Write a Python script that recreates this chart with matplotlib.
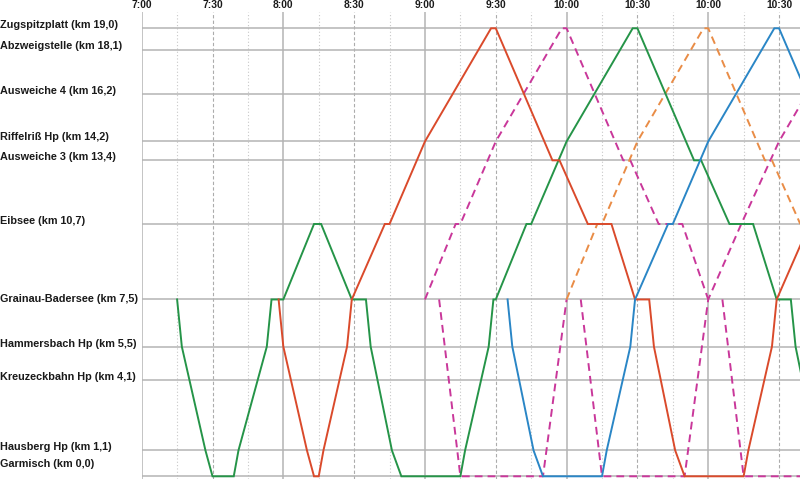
import matplotlib
matplotlib.use("Agg")
import matplotlib.pyplot as plt
import matplotlib.transforms as mtransforms

# ---------------- data ----------------
stations = ["Zugspitzplatt (km 19,0)", "Abzweigstelle (km 18,1)", "Ausweiche 4 (km 16,2)",
            "Riffelriß Hp (km 14,2)", "Ausweiche 3 (km 13,4)", "Eibsee (km 10,7)",
            "Grainau-Badersee (km 7,5)", "Hammersbach Hp (km 5,5)", "Kreuzeckbahn Hp (km 4,1)",
            "Hausberg Hp (km 1,1)", "Garmisch (km 0,0)"]
station_km = [19.0, 18.1, 16.2, 14.2, 13.4, 10.7, 7.5, 5.5, 4.1, 1.1, 0.0]

tick_times = ["7:00", "7:30", "8:00", "8:30", "9:00", "9:30", "10:00", "10:30", "11:00", "11:30"]
tick_labels = ["7:00", "7:30", "8:00", "8:30", "9:00", "9:30", "10:00", "10:30", "10:00", "10:30"]

green_times = ["7:15", "7:17", "7:27", "7:30", "7:39", "7:41", "7:53", "7:55", "8:00", "8:13", "8:16",
               "8:29", "8:35", "8:37", "8:46", "8:50", "9:15", "9:17", "9:27", "9:29", "9:30", "9:43",
               "9:45", "10:00", "10:28", "10:30", "10:54", "10:57", "11:09", "11:19", "11:29", "11:35",
               "11:37", "11:46", "11:50"]
green_km = [7.5, 5.5, 1.1, 0.0, 0.0, 1.1, 5.5, 7.5, 7.5, 10.7, 10.7,
            7.5, 7.5, 5.5, 1.1, 0.0, 0.0, 1.1, 5.5, 7.5, 7.5, 10.7,
            10.7, 14.2, 19.0, 19.0, 13.4, 13.4, 10.7, 10.7, 7.5, 7.5,
            5.5, 1.1, 0.0]

red_times = ["7:58", "8:00", "8:10", "8:13", "8:15", "8:17", "8:27", "8:29", "8:43", "8:45", "9:00",
             "9:28", "9:30", "9:54", "9:57", "10:09", "10:19", "10:29", "10:35", "10:37", "10:46",
             "10:50", "11:15", "11:17", "11:27", "11:29", "11:43"]
red_km = [7.5, 5.5, 1.1, 0.0, 0.0, 1.1, 5.5, 7.5, 10.7, 10.7, 14.2,
          19.0, 19.0, 13.4, 13.4, 10.7, 10.7, 7.5, 7.5, 5.5, 1.1,
          0.0, 0.0, 1.1, 5.5, 7.5, 10.7]

blue_times = ["9:35", "9:37", "9:46", "9:50", "10:15", "10:17", "10:27", "10:29", "10:43", "10:45",
              "11:00", "11:28", "11:30", "11:54"]
blue_km = [7.5, 5.5, 1.1, 0.0, 0.0, 1.1, 5.5, 7.5, 10.7, 10.7,
           14.2, 19.0, 19.0, 13.4]

magenta1_times = ["9:00", "9:13", "9:15", "9:30", "9:58", "10:00", "10:24", "10:27", "10:39", "10:49", "11:00"]
magenta1_km = [7.5, 10.7, 10.7, 14.2, 19.0, 19.0, 13.4, 13.4, 10.7, 10.7, 7.5]

magenta2_times = ["9:06", "9:15", "9:50", "10:00"]
magenta2_km = [7.5, 0.0, 0.0, 7.5]

magenta3_times = ["10:06", "10:15", "10:50", "11:00", "11:14", "11:30", "11:58"]
magenta3_km = [7.5, 0.0, 0.0, 7.5, 10.7, 14.2, 19.0]

magenta4_times = ["11:06", "11:15", "11:45"]
magenta4_km = [7.5, 0.0, 0.0]

orange_times = ["10:00", "10:13", "10:15", "10:30", "10:58", "11:00", "11:24", "11:27", "11:39"]
orange_km = [7.5, 10.7, 10.7, 14.2, 19.0, 19.0, 13.4, 13.4, 10.7]


def to_min(s):
    h, m = s.split(":")
    return int(h) * 60 + int(m)


# ---------------- figure ----------------
W, H = 800, 479
fig = plt.figure(figsize=(W / 100, H / 100), dpi=100)
plt.rcParams['font.family'] = ['Liberation Sans', 'DejaVu Sans']

left_px, top_px = 141.7, 12.0
ax = fig.add_axes([left_px / W, 0.0, 1 - left_px / W, (H - top_px) / H])
ax.set_xlim(to_min("7:00"), to_min("7:00") + (W - left_px) / 2.3605)
ax.set_ylim(-(H - 476.3) / 23.58, (476.3 - top_px) / 23.58)
for s in ax.spines.values():
    s.set_visible(False)
ax.set_xticks([])
ax.set_yticks([])

# vertical grid
t0 = to_min("7:00")
for q in range(0, 20):
    t = t0 + 15 * q
    if q % 4 == 0:
        ax.axvline(t, color='#b4b4b4', lw=1.1, zorder=1)
    elif q % 2 == 0:
        ax.axvline(t, color='#acacac', lw=0.8, ls=(0, (3, 2)), zorder=1)
    else:
        ax.axvline(t, color='#c8c8c8', lw=0.8, ls=(0, (1, 2)), zorder=1)

# station lines
for km in station_km:
    ax.axhline(km, color='#b4b4b4', lw=1.1, zorder=1)

# trains
dash = (0, (4, 2.6))
for tt, kk, c in [(magenta2_times, magenta2_km, '#c9379a'),
                  (magenta3_times, magenta3_km, '#c9379a'),
                  (magenta4_times, magenta4_km, '#c9379a'),
                  (magenta1_times, magenta1_km, '#c9379a'),
                  (orange_times, orange_km, '#e98c46')]:
    ax.plot([to_min(s) for s in tt], kk, color=c, lw=1.4, ls=dash, zorder=3)

for tt, kk, c in [(green_times, green_km, '#259448'),
                  (red_times, red_km, '#da4a2b'),
                  (blue_times, blue_km, '#2a86c6')]:
    ax.plot([to_min(s) for s in tt], kk, color=c, lw=1.4, zorder=4, solid_joinstyle='miter')

# station labels
offsets = [3.5, 3.5, 3.5, 4.0, 3.7, 3.3, 0.0, 3.0, 2.7, 3.6, 12.0]
for name, km, off in zip(stations, station_km, offsets):
    trans = mtransforms.blended_transform_factory(fig.transFigure, ax.transData)
    trans = trans + mtransforms.ScaledTranslation(0, off / 100, fig.dpi_scale_trans)
    ax.text(0.0 / W, km, name, transform=trans, ha='left', va='center',
            fontsize=7.8, fontweight='bold', color='#1a1a1a', clip_on=False)

# time labels
for t, lab in zip(tick_times, tick_labels):
    ax.text(to_min(t), 1 + (top_px - 5.0) / (H - top_px), lab,
            transform=mtransforms.blended_transform_factory(ax.transData, ax.transAxes),
            ha='center', va='center', fontsize=7.4, fontweight='bold', color='#1a1a1a',
            clip_on=False)

fig.savefig("out.png", dpi=100)
